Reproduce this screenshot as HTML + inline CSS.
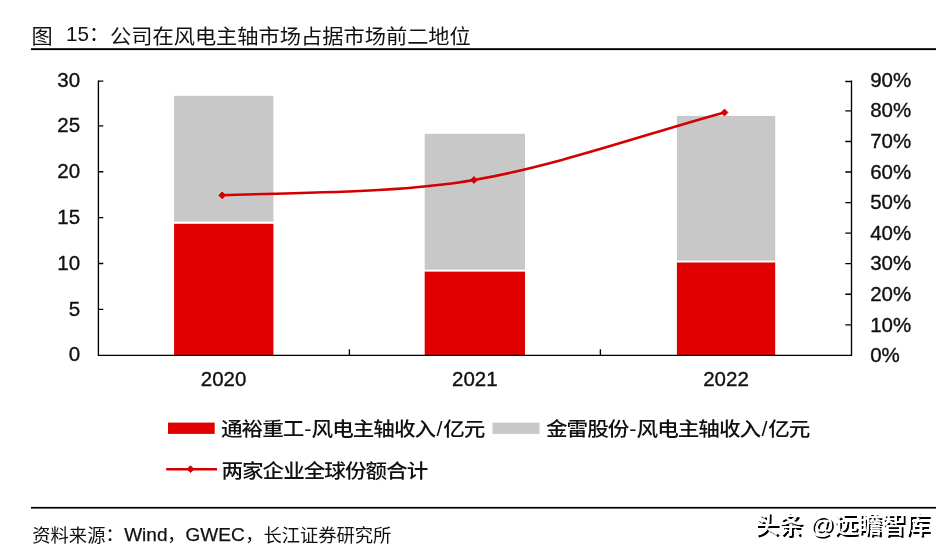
<!DOCTYPE html>
<html lang="zh-CN">
<head>
<meta charset="utf-8">
<title>图 15：公司在风电主轴市场占据市场前二地位</title>
<style>
html,body{margin:0;padding:0;background:#fff;}
body{width:946px;height:554px;overflow:hidden;position:relative;}
svg{display:block;position:absolute;left:0;top:0;}
text{font-family:"Liberation Sans","Noto Sans CJK SC",sans-serif;fill:#111;}
.t{font-size:20px;font-weight:400;}
.ax{font-size:20.5px;stroke:#111;stroke-width:0.35px;}
.lg{font-size:21.6px;font-weight:500;letter-spacing:-1px;}
.ft{font-size:18.3px;font-weight:400;}
.la{font-size:19px;stroke:#111;stroke-width:0.25px;}
.wm{font-size:24px;font-weight:500;fill:#fff;}
</style>
</head>
<body>
<svg width="946" height="554" viewBox="0 0 946 554">
<rect x="0" y="0" width="946" height="554" fill="#fff"/>
<!-- title -->
<text class="t" y="43.7"><tspan x="31.6" textLength="21.2" lengthAdjust="spacingAndGlyphs">图</tspan> <tspan x="66" y="41.2" style="font-size:20.6px">15</tspan><tspan x="89" y="41.4">：</tspan><tspan x="110" y="43.7" textLength="360.8" lengthAdjust="spacingAndGlyphs">公司在风电主轴市场占据市场前二地位</tspan></text>
<rect x="31" y="48.2" width="905" height="1.9" fill="#000"/>
<!-- bars -->
<g>
<rect x="174.1" y="95.8" width="99.3" height="125.8" fill="#c8c8c8"/>
<rect x="174.1" y="223.8" width="99.3" height="131.5" fill="#e00000"/>
<rect x="424.7" y="133.8" width="100.3" height="135.9" fill="#c8c8c8"/>
<rect x="424.7" y="271.6" width="100.3" height="83.7" fill="#e00000"/>
<rect x="676.9" y="115.9" width="98.3" height="144.7" fill="#c8c8c8"/>
<rect x="676.9" y="262.5" width="98.3" height="92.8" fill="#e00000"/>
</g>
<!-- axes -->
<g stroke="#000" stroke-width="1.35" fill="none">
<path d="M98.4 80.5V355.3H851.5V80.6"/>
<path d="M98.4 309.4h4.9M98.4 263.5h4.9M98.4 217.6h4.9M98.4 171.7h4.9M98.4 125.8h4.9M98.4 81.1h4.9"/>
<path d="M851.5 324.8h-6.2M851.5 294.2h-6.2M851.5 263.6h-6.2M851.5 233.1h-6.2M851.5 202.6h-6.2M851.5 172.0h-6.2M851.5 141.5h-6.2M851.5 110.9h-6.2M851.5 81.5h-6.2"/>
<path d="M349.4 355.3v-6M600.4 355.3v-6"/>
</g>
<!-- left labels -->
<g class="ax" text-anchor="end">
<text x="80.1" y="361.4">0</text>
<text x="80.1" y="315.6">5</text>
<text x="80.1" y="269.8">10</text>
<text x="80.1" y="224.0">15</text>
<text x="80.1" y="178.2">20</text>
<text x="80.1" y="132.4">25</text>
<text x="80.1" y="86.6">30</text>
</g>
<!-- right labels -->
<g class="ax">
<text x="870.2" y="362.3">0%</text>
<text x="870.2" y="331.7">10%</text>
<text x="870.2" y="301.1">20%</text>
<text x="870.2" y="270.4">30%</text>
<text x="870.2" y="239.8">40%</text>
<text x="870.2" y="209.2">50%</text>
<text x="870.2" y="178.6">60%</text>
<text x="870.2" y="148.0">70%</text>
<text x="870.2" y="117.3">80%</text>
<text x="870.2" y="86.7">90%</text>
</g>
<!-- x labels -->
<g class="ax" text-anchor="middle">
<text x="223.6" y="386.4">2020</text>
<text x="474.8" y="386.4">2021</text>
<text x="726" y="386.4">2022</text>
</g>
<!-- line -->
<path d="M222.2 195.3C300 192.4 400 193 474 180C560 165 650 132.5 724.5 112.5" fill="none" stroke="#d40000" stroke-width="2.6" stroke-linecap="round"/>
<g fill="#d40000" stroke="#d40000" stroke-width="1" stroke-linejoin="round">
<path d="M218.8 195.3l3.4 -3.4 3.4 3.4 -3.4 3.4z"/>
<path d="M470.6 180l3.4 -3.4 3.4 3.4 -3.4 3.4z"/>
<path d="M721.1 112.5l3.4 -3.4 3.4 3.4 -3.4 3.4z"/>
</g>
<!-- legend -->
<rect x="168" y="422.6" width="46.7" height="11.3" fill="#e00000"/>
<text class="lg" transform="scale(1,0.907)" y="480.9"><tspan x="221.0">通裕重工</tspan><tspan x="304.2">-</tspan><tspan x="311.6">风电主轴收入</tspan><tspan x="436.4">/</tspan><tspan x="443.2">亿元</tspan></text>
<rect x="492.5" y="422.6" width="47" height="11.3" fill="#c8c8c8"/>
<text class="lg" transform="scale(1,0.907)" y="480.9"><tspan x="546.0">金雷股份</tspan><tspan x="629.2">-</tspan><tspan x="636.6">风电主轴收入</tspan><tspan x="761.4">/</tspan><tspan x="768.2">亿元</tspan></text>
<path d="M166.2 469.2H217" stroke="#d40000" stroke-width="2.5" fill="none"/>
<path d="M187.1 469.2l3.4-3.4 3.4 3.4-3.4 3.4z" fill="#d40000" stroke="#d40000" stroke-width="1" stroke-linejoin="round"/>
<text class="lg" transform="scale(1,0.907)" x="221.4" y="527.2">两家企业全球份额合计</text>
<!-- footer -->
<rect x="31" y="506.9" width="905" height="1.7" fill="#000"/>
<text class="ft" y="542"><tspan x="32.3">资料来源</tspan><tspan x="105.5" y="540.8">：</tspan><tspan class="la" x="124.2" y="541">Wind</tspan><tspan x="167.3" y="541">，</tspan><tspan class="la" x="185.6" y="541">GWEC</tspan><tspan x="245.3" y="541">，</tspan><tspan x="263.4" y="542">长江证券研究所</tspan></text>
<defs><filter id="sh" x="-5%" y="-30%" width="110%" height="160%"><feMorphology in="SourceAlpha" operator="dilate" radius="0.35" result="d"/><feOffset in="d" dx="1.5" dy="1.5" result="o"/><feMerge><feMergeNode in="o"/><feMergeNode in="SourceGraphic"/></feMerge></filter></defs>
<text class="wm" x="754.8" y="532.8" filter="url(#sh)">头条 @远瞻智库</text>
</svg>
</body>
</html>
